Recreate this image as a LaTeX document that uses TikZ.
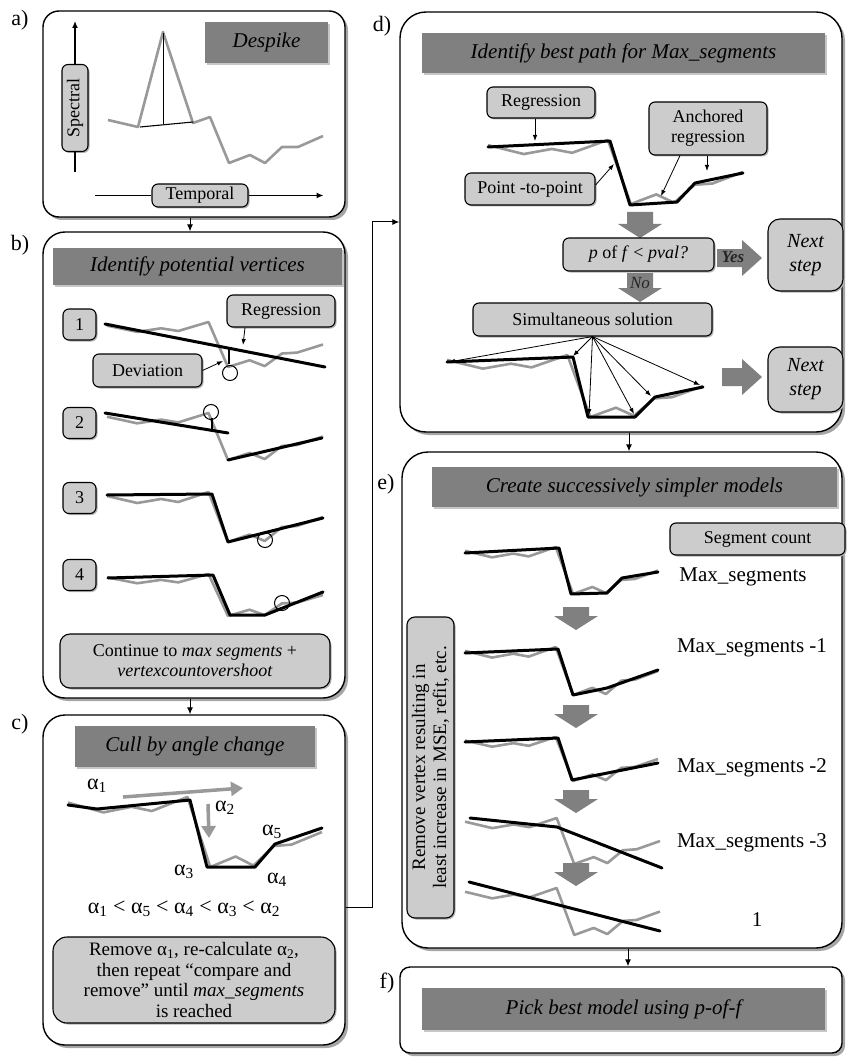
\documentclass[tikz,border=0pt]{standalone}
\usepackage{fontspec}
\setmainfont{Liberation Serif}
\usetikzlibrary{shadows,arrows.meta}

\definecolor{hdr}{gray}{0.5}
\definecolor{lblfill}{gray}{0.8}
\definecolor{series}{gray}{0.6}
\definecolor{blk}{gray}{0.5}

\tikzset{
 panel/.style={draw=black, line width=1.4pt, rounded corners=22pt, fill=white,
   drop shadow={shadow xshift=3pt, shadow yshift=-3pt, fill=gray!70, opacity=1}},
 hdrbox/.style={fill=hdr, inner sep=0pt, font=\fontsize{21}{24}\selectfont\itshape,
   drop shadow={shadow xshift=2pt, shadow yshift=-2pt, fill=gray!45, opacity=1}},
 lbl/.style={draw=black, line width=1.1pt, fill=lblfill, rounded corners=6pt, inner sep=0pt,
   font=\fontsize{18}{20}\selectfont,
   drop shadow={shadow xshift=1.5pt, shadow yshift=-1.5pt, fill=gray!60, opacity=1}},
 gline/.style={draw=series, line width=2.6pt, line join=round},
 bline/.style={draw=black, line width=3pt, line join=round, line cap=round},
 arr/.style={line width=1pt, -{Latex[length=7pt,width=6pt]}},
 thinarr/.style={line width=0.8pt, -{Latex[length=6pt,width=4.5pt]}},
 plabel/.style={font=\fontsize{22}{24}\selectfont},
 ring/.style={circle, draw=black, line width=1pt, minimum size=15pt, inner sep=0pt},
 bigtxt/.style={font=\fontsize{21}{24}\selectfont},
 alab/.style={font=\fontsize{22}{24}\selectfont},
 garrow/.style={draw=series, line width=3.5pt, -{Triangle[length=12pt,width=14pt]}},
}

\newcommand\grayseries[4]{%
 \begin{scope}[shift={(#1,#2)},xscale=#3,yscale=#4]
 \draw[gline] (0,0.08) -- (0.14,0.22) -- (0.25,0.14) -- (0.33,0.2) -- (0.4,0.1) -- (0.47,0)
   -- (0.56,1) -- (0.66,0.85) -- (0.73,0.98) -- (0.81,0.7) -- (0.88,0.68) -- (1,0.5);
 \end{scope}}
\newcommand\bdown[3]{%
 \fill[blk] ({#1-13},#2) -- ({#1+13},#2) -- ({#1+13},{#3-14}) -- ({#1+22},{#3-14}) -- (#1,#3)
   -- ({#1-22},{#3-14}) -- ({#1-13},{#3-14}) -- cycle;}
\newcommand\bright[3]{%
 \fill[blk] (#1,{#3-9}) -- ({#2-20},{#3-9}) -- ({#2-20},{#3-18}) -- (#2,#3)
   -- ({#2-20},{#3+18}) -- ({#2-20},{#3+9}) -- (#1,{#3+9}) -- cycle;}

\begin{document}
\begin{tikzpicture}[x=1pt,y=-1pt]
\useasboundingbox (0,0) rectangle (846,1059);

% ---------------- panels ----------------
\node[panel, rounded corners=16pt, minimum width=302pt, minimum height=206pt] (pa) at (194,114) {};
\node[panel, minimum width=302pt, minimum height=466pt] (pb) at (194,465) {};
\node[panel, minimum width=302pt, minimum height=330pt] (pc) at (194,880) {};
\node[panel, rounded corners=26pt, minimum width=442pt, minimum height=420pt] (pd) at (621,222) {};
\node[panel, rounded corners=26pt, minimum width=440pt, minimum height=496pt] (pe) at (622,700) {};
\node[panel, rounded corners=10pt, minimum width=442pt, minimum height=86pt] (pf) at (621,1010) {};

\node[plabel] (la) at (20,20) {a)};
\node[plabel] (lb) at (20,245) {b)};
\node[plabel] (lc) at (20,724) {c)};
\node[plabel] (ld) at (382,26) {d)};
\node[plabel] (le) at (386,484) {e)};
\node[plabel] (lf) at (387,983) {f)};

% connectors between panels
\draw[arr] ([xshift=-4pt]pa.south) -- ([xshift=-4pt]pb.north);
\draw[arr] ([xshift=-4pt]pb.south) -- ([xshift=-4pt]pc.north);
\draw[arr] ([yshift=-27pt]pc.east) -- ++(27,0) |- (pd.west);
\draw[arr] ([xshift=8pt]pd.south) -- ([xshift=8pt]pd.south |- pe.north);
\draw[arr] ([xshift=6pt]pe.south) -- ([xshift=6pt]pe.south |- pf.north);

% ---------------- panel a ----------------
\node[hdrbox, minimum width=123pt, minimum height=41pt] (hA) at (266.5,42.5) {Despike};
\node[lbl, rotate=90, minimum width=87pt, minimum height=26pt] (spec) at (75,108) {Spectral};
\draw[line width=1.5pt] ([yshift=-20pt]spec.west) -- (spec.west);
\draw[arr, line width=1.5pt] (spec.east) -- ([yshift=43pt]spec.east);
\node[lbl, minimum width=96pt, minimum height=23pt] (temp) at (200,195.5) {Temporal};
\draw[line width=1.5pt] ([xshift=-56pt]temp.west) -- (temp.west);
\draw[arr, line width=1.5pt] (temp.east) -- ([xshift=75pt]temp.east);
\draw[gline] (108,120) -- (138,127) -- (163,32) -- (193,123) -- (210,117) -- (229,163)
  -- (250,155) -- (265,163) -- (282,147) -- (298,147) -- (323,136);
\draw[line width=1.1pt] (140,127) -- (193,122);
\draw[line width=0.9pt] (163,33) -- (163,124.5);

% ---------------- panel b ----------------
\node[hdrbox, minimum width=289pt, minimum height=37pt] (hB) at (197.5,266.5) {Identify potential vertices};
\node[lbl, minimum width=33pt, minimum height=31pt] (n1) at (79.5,324.5) {1};
\node[lbl, minimum width=33pt, minimum height=31pt] (n2) at (79.5,423) {2};
\node[lbl, minimum width=33pt, minimum height=31pt] (n3) at (79.5,498) {3};
\node[lbl, minimum width=33pt, minimum height=31pt] (n4) at (79.5,575) {4};
% row 1
\grayseries{107}{322}{216}{45}
\draw[bline] (105,324) -- (325,367);
\draw[line width=1.2pt] (229,348) -- (229,364);
\node[ring] (c1) at (230,373) {};
\node[lbl, minimum width=108pt, minimum height=32pt] (regB) at (281,311) {Regression};
\node[lbl, minimum width=109pt, minimum height=33pt] (devB) at (147.5,370.5) {Deviation};
\coordinate (regBpt) at (243,345);
\coordinate (devBpt) at (223,361);
\draw[thinarr] ([xshift=-36pt]regB.south) -- (regBpt);
\draw[thinarr] (devB.east) -- (devBpt);
% row 2
\grayseries{107}{413}{216}{47}
\draw[bline] (105,413) -- (228,433);
\draw[bline] (228,460) -- (322,438);
\draw[line width=1.2pt] (212,418) -- (212,430);
\node[ring] (c2) at (211,412) {};
% row 3
\grayseries{107}{492}{216}{50}
\draw[bline] (107,495) -- (212,494) -- (228,542) -- (323,518);
\node[ring] (c3) at (265,540) {};
% row 4
\grayseries{107}{574}{216}{42}
\draw[bline] (108,578) -- (213,575) -- (230,615) -- (265,615) -- (323,592);
\node[ring] (c4) at (282,603) {};
\node[lbl, rounded corners=10pt, minimum width=270pt, minimum height=54pt, align=center] (cont) at (195,661)
  {Continue to \textit{max segments} +\\\textit{vertexcountovershoot}};

% ---------------- panel c ----------------
\node[hdrbox, minimum width=240pt, minimum height=41pt] (hC) at (195,746.5) {Cull by angle change};
\grayseries{68}{797}{254}{70}
\draw[bline] (68,805) -- (97,809) -- (190,800) -- (207,867) -- (255,867) -- (275,844) -- (322,828);
\coordinate (g1s) at (123,797);
\coordinate (g1e) at (243,788);
\coordinate (g2s) at (208,804);
\coordinate (g2e) at (209,838);
\draw[garrow] (g1s) -- (g1e);
\draw[garrow] (g2s) -- (g2e);
\node[alab] (a1) at (97,786) {α\textsubscript{1}};
\node[alab] (a2) at (225,808) {α\textsubscript{2}};
\node[alab] (a3) at (184,872) {α\textsubscript{3}};
\node[alab] (a4) at (277,880) {α\textsubscript{4}};
\node[alab] (a5) at (272,832) {α\textsubscript{5}};
\node[alab] (ineq) at (184,909) {α\textsubscript{1} < α\textsubscript{5} < α\textsubscript{4} < α\textsubscript{3} < α\textsubscript{2}};
\node[lbl, rounded corners=14pt, minimum width=282pt, minimum height=86pt, align=center,
  font=\fontsize{19}{20.5}\selectfont] (rem) at (194,980)
  {Remove α\textsubscript{1}, re-calculate α\textsubscript{2},\\then repeat “compare and\\remove” until \textit{max\_segments}\\is reached};

% ---------------- panel d ----------------
\node[hdrbox, minimum width=403pt, minimum height=40pt] (hD) at (623.5,53) {Identify best path for Max\_segments};
\grayseries{488}{140}{255}{64}
\draw[bline] (488,147) -- (610,141) -- (630,205) -- (677,202) -- (695,183) -- (743,173);
\node[lbl, minimum width=108pt, minimum height=31pt] (regD) at (541,102.5) {Regression};
\node[lbl, minimum width=118pt, minimum height=53pt, align=center] (ancD) at (708,128.5) {Anchored\\regression};
\node[lbl, minimum width=130pt, minimum height=32pt] (ptpD) at (530,189) {Point -to-point};
\coordinate (regDpt) at (535,141);
\coordinate (ptpDpt) at (614,164);
\coordinate (anc1pt) at (661,196);
\coordinate (anc2pt) at (707,171);
\draw[thinarr] (regD.south -| regDpt) -- (regDpt);
\draw[thinarr] ([yshift=4pt]ptpD.east) -- (ptpDpt);
\draw[thinarr] ([xshift=-28pt]ancD.south) -- (anc1pt);
\draw[thinarr] (ancD.south -| anc2pt) -- (anc2pt);
\bdown{640}{212}{238}
\node[lbl, minimum width=151pt, minimum height=33pt] (pof) at (638.5,254.5) {\textit{p} of \textit{f} < \textit{pval?}};
\bright{717}{762}{258}
\node[font=\fontsize{17}{20}\selectfont\itshape\bfseries, text=black!85] (yes) at (733,257) {Yes};
\node[lbl, rounded corners=12pt, minimum width=75pt, minimum height=72pt, align=center,
  font=\fontsize{20}{24}\selectfont\itshape] (ns1) at (805.5,255) {Next\\step};
\bdown{640}{273}{302}
\node[font=\fontsize{17}{20}\selectfont\itshape, text=black!85] (no) at (640,283) {No};
\node[lbl, minimum width=239pt, minimum height=33pt] (sim) at (592.5,319.5) {Simultaneous solution};
\grayseries{447}{355}{256}{62}
\draw[bline] (447,362) -- (573,357) -- (588,417) -- (635,417) -- (655,397) -- (703,387);
\coordinate (f1) at (449,362);
\coordinate (f2) at (573,356);
\coordinate (f3) at (589,415);
\coordinate (f4) at (634,414);
\coordinate (f5) at (651,396);
\coordinate (f6) at (700,385);
\foreach \t in {f1,f2,f3,f4,f5,f6} \draw[thinarr] (sim.south) -- (\t);
\bright{722}{762}{377}
\node[lbl, rounded corners=12pt, minimum width=75pt, minimum height=65pt, align=center,
  font=\fontsize{20}{24}\selectfont\itshape] (ns2) at (805.5,379.5) {Next\\step};

% ---------------- panel e ----------------
\node[hdrbox, minimum width=405pt, minimum height=40pt] (hE) at (634.5,487) {Create successively simpler models};
\node[lbl, minimum width=175pt, minimum height=32pt] (segc) at (757.5,539) {Segment count};
\node[bigtxt] (m0) at (743,577) {Max\_segments};
\node[bigtxt] (m1) at (752,648) {Max\_segments -1};
\node[bigtxt] (m2) at (752,768) {Max\_segments -2};
\node[bigtxt] (m3) at (752,843) {Max\_segments -3};
\node[bigtxt] (m4) at (757,920) {1};
\grayseries{465}{547}{193}{47}
\draw[bline] (465,553) -- (559,548) -- (571,594) -- (607,593) -- (622,578) -- (658,572);
\bdown{576}{607}{630}
\grayseries{465}{647}{193}{48}
\draw[bline] (465,653) -- (558,649) -- (573,695) -- (607,688) -- (658,670);
\bdown{576}{705}{728}
\grayseries{465}{737}{193}{44}
\draw[bline] (465,742) -- (558,738) -- (572,780) -- (658,763);
\bdown{576}{790}{813}
\grayseries{465}{818}{195}{46}
\draw[bline] (470,818) -- (557,827) -- (662,868);
\bdown{576}{863}{886}
\grayseries{465}{888}{195}{47}
\draw[bline] (469,882) -- (660,931);
\node[lbl, rotate=90, rounded corners=8pt, minimum width=301pt, minimum height=47pt, align=center,
  font=\fontsize{19}{21}\selectfont] (side) at (430.5,767.5)
  {Remove vertex resulting in\\least increase in MSE, refit, etc.};

% ---------------- panel f ----------------
\node[hdrbox, minimum width=403pt, minimum height=42pt] (hF) at (623.5,1009) {Pick best model using p-of-f};
\end{tikzpicture}
\end{document}
